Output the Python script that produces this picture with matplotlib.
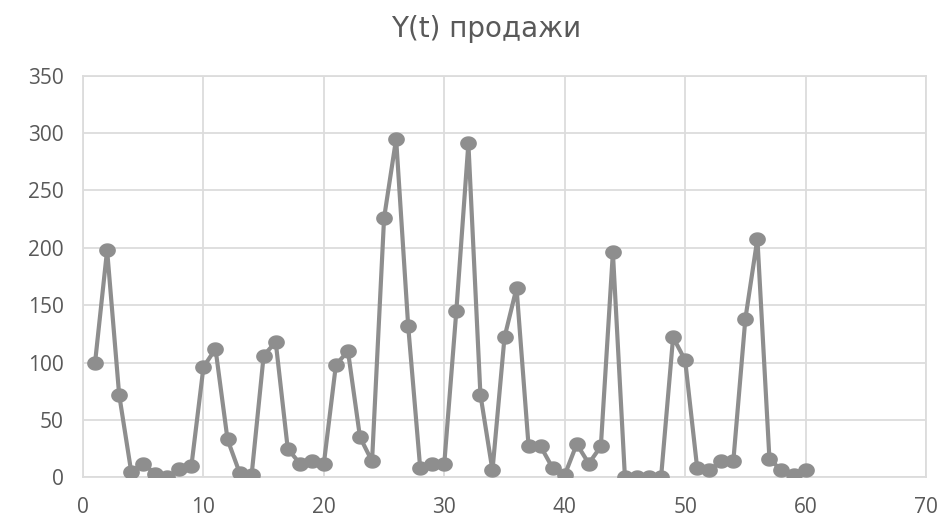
import matplotlib
matplotlib.use("Agg")
import matplotlib.pyplot as plt
import numpy as np
from matplotlib.path import Path

# Monthly sales series Y(t)
t = list(range(1, 61))
sales = [100, 198, 72, 5, 12, 3, 0, 7, 10, 96,
         112, 33, 4, 2, 106, 118, 25, 12, 14, 12,
         98, 110, 35, 14, 226, 295, 132, 8, 12, 12,
         145, 291, 72, 6, 122, 165, 27, 27, 8, 2,
         29, 12, 27, 196, 0, 0, 0, 0, 122, 102,
         8, 6, 14, 14, 138, 208, 16, 6, 2, 6]

x_ticks = [0, 10, 20, 30, 40, 50, 60, 70]
y_ticks = [0, 50, 100, 150, 200, 250, 300, 350]
title = "Y(t) продажи"

plt.rcParams['font.family'] = ['Open Sans', 'DejaVu Sans']

# slightly flattened round marker
theta = np.linspace(0, 2 * np.pi, 64)
oval = Path(np.column_stack([np.cos(theta), 0.85 * np.sin(theta)]), closed=True)

fig = plt.figure(figsize=(9.51, 5.27), dpi=100)
ax = fig.add_axes([0.0873, 0.0943, 0.8864, 0.7621])

line_color = "#8e8e8e"
ax.plot(t, sales, color=line_color, linewidth=3.0, marker=oval,
        markersize=11, markerfacecolor=line_color,
        markeredgecolor=line_color, zorder=3)

ax.set_xlim(0, 70)
ax.set_ylim(0, 350)
ax.set_xticks(x_ticks)
ax.set_yticks(y_ticks)
ax.grid(True, color="#dcdcdc", linewidth=1.3, zorder=0)
ax.set_axisbelow(True)
for s in ax.spines.values():
    s.set_color("#dcdcdc")
    s.set_linewidth(1.3)
ax.tick_params(length=0, labelsize=15, colors="#595959", pad=14)

fig.text(0.511, 0.945, title, ha="center", va="center", fontsize=20,
         color="#595959", family=["DejaVu Sans"])

fig.savefig("out.png", dpi=100)
